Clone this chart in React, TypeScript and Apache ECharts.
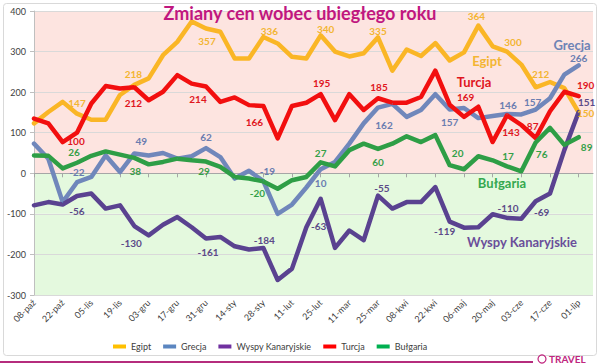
import React, { useEffect, useRef } from 'react';
import * as echarts from 'echarts';

const categories = [
  '08-paź', '15-paź', '22-paź', '29-paź', '05-lis', '12-lis', '19-lis', '26-lis',
  '03-gru', '10-gru', '17-gru', '24-gru', '31-gru', '07-sty', '14-sty', '21-sty',
  '28-sty', '04-lut', '11-lut', '18-lut', '25-lut', '04-mar', '11-mar', '18-mar',
  '25-mar', '01-kwi', '08-kwi', '15-kwi', '22-kwi', '29-kwi', '06-maj', '13-maj',
  '20-maj', '27-maj', '03-cze', '10-cze', '17-cze', '24-cze', '01-lip', '',
];

const egipt = [123, 151, 176, 147, 132, 132, 193, 218, 234, 291, 324, 374, 357, 349, 283, 283, 336, 320, 287, 283, 340, 300, 288, 296, 335, 253, 305, 289, 321, 278, 298, 364, 313, 300, 268, 212, 225, 210, 150];
const grecja = [73, 36, -71, -22, -9, 44, 3, 49, 44, 50, 36, 42, 62, 40, -13, 6, -19, -100, -77, -35, 10, 28, 73, 123, 162, 171, 139, 156, 195, 157, 161, 136, 141, 146, 145, 157, 185, 243, 266];
const wyspy = [-79, -71, -77, -56, -50, -87, -79, -130, -153, -127, -108, -133, -161, -157, -180, -188, -184, -263, -235, -133, -63, -184, -141, -165, -55, -87, -71, -71, -34, -119, -134, -133, -101, -110, -112, -69, -50, 57, 151];
const turcja = [135, 123, 77, 100, 172, 215, 209, 212, 180, 201, 242, 221, 214, 176, 187, 168, 166, 86, 166, 174, 195, 131, 195, 156, 185, 174, 174, 188, 253, 169, 139, 164, 77, 143, 119, 87, 153, 201, 190];
const bulgaria = [44, 43, 12, 26, 43, 54, 46, 38, 22, 28, 36, 32, 29, 16, -9, -13, -20, -38, -17, -9, 27, 17, 57, 73, 60, 73, 91, 77, 94, 20, 10, 42, 32, 17, 5, 76, 112, 70, 89];

const yMin = -300;
const yMax = 400;
const yStep = 100;

// label offsets (style only) for labelled points: index -> [dx, dy]
const egiptLab: Record<number, number[]> = { 3: [0, -11], 7: [-1, -11], 12: [1, 13], 16: [6, -6], 20: [5, -6], 24: [0, -6], 31: [-2, -10], 33: [6, -10], 35: [5, -13], 38: [7, 1] };
const turcjaLab: Record<number, number[]> = { 3: [-1, 8], 7: [-1, 16], 12: [-8, 13], 16: [-9, 16], 20: [1, -11], 24: [1, -11], 29: [16, -8], 33: [4, 17], 35: [-3, -12], 38: [7, -11] };
const grecjaLab: Record<number, number[]> = { 3: [0, -10], 7: [7, -12], 12: [0, -11], 16: [4, -10], 20: [0, 14], 24: [6, 17], 29: [0, 12], 33: [1, -9], 35: [-3, -8], 38: [0, -7] };
const bulgariaLab: Record<number, number[]> = { 3: [-3, -11], 7: [1, 13], 12: [-2, 9], 16: [-6, 12], 20: [0, -9], 24: [0, 13], 29: [8, -12], 33: [1, -10], 35: [6, 12], 38: [8, 10] };
const wyspyLab: Record<number, number[]> = { 3: [0, 15], 7: [-3, 17], 12: [2, 13], 16: [1, -8], 20: [-2, 27], 24: [4, -8], 29: [-5, 9], 33: [1, -10], 35: [6, 11], 38: [8, -10] };

const FONT = 'Lato, "Open Sans", sans-serif';

function withLabels(values: number[], offs: Record<number, number[]>) {
  return values.map((v, i) =>
    offs[i] ? { value: v, label: { show: true, offset: offs[i] } } : v
  );
}

function makeSeries(name: string, values: number[], offs: Record<number, number[]>, lineColor: string, labelColor: string) {
  return {
    name,
    type: 'line',
    data: withLabels(values, offs),
    xAxisIndex: 0,
    yAxisIndex: 0,
    symbol: 'circle',
    symbolSize: 1,
    showSymbol: true,
    showAllSymbol: true,
    lineStyle: { width: 4.5, color: lineColor, cap: 'round', join: 'round' },
    itemStyle: { color: lineColor },
    label: {
      show: false,
      position: 'inside',
      color: labelColor,
      fontSize: 10,
      lineHeight: 10,
      fontWeight: 'bold',
      fontFamily: FONT,
    },
    emphasis: { disabled: true },
    silent: true,
  };
}

export default function App() {
  const ref = useRef<HTMLDivElement>(null);

  useEffect(() => {
    if (!ref.current) return;
    const chart = echarts.init(ref.current, null, { renderer: 'svg' });
    const pink = '#FDE4E0';
    const green = '#E4F9DE';
    const splitColors: string[] = [];
    for (let v = yMin; v < yMax; v += yStep) splitColors.push(v < 0 ? green : pink);

    const option: any = {
      animation: false,
      backgroundColor: '#ffffff',
      textStyle: { fontFamily: FONT },
      title: {
        text: 'Zmiany cen wobec ubiegłego roku',
        left: 'center',
        top: 4,
        padding: 0,
        textStyle: { fontSize: 18, lineHeight: 18, fontWeight: 'bold', color: '#C0177F', fontFamily: FONT },
      },
      legend: {
        left: 113,
        top: 342,
        itemWidth: 13,
        itemHeight: 4,
        itemGap: 12,
        icon: 'rect',
        padding: 0,
        textStyle: { fontSize: 9, color: '#404040', fontFamily: FONT },
        data: [
          { name: 'Egipt', itemStyle: { color: '#FFC000' } },
          { name: 'Grecja', itemStyle: { color: '#5B86C0' } },
          { name: 'Wyspy Kanaryjskie', itemStyle: { color: '#7030A0' } },
          { name: 'Turcja', itemStyle: { color: '#FF0000' } },
          { name: 'Bułgaria', itemStyle: { color: '#00B050' } },
        ],
      },
      grid: { left: 34, right: 7, top: 11, bottom: 69, outerBoundsMode: 'none' },
      xAxis: [
        {
          type: 'category',
          data: categories,
          boundaryGap: false,
          position: 'bottom',
          axisLine: { show: false, onZero: false },
          axisTick: { show: false },
          axisLabel: {
            interval: 1,
            rotate: 45,
            fontSize: 9,
            color: '#404040',
            fontFamily: FONT,
            margin: 6,
          },
          splitLine: { show: false },
        },
        {
          type: 'category',
          data: categories,
          boundaryGap: false,
          position: 'bottom',
          axisLine: { show: true, onZero: true, lineStyle: { color: '#A6A6A6', width: 1 } },
          axisTick: { show: true, interval: 1, length: 4, lineStyle: { color: '#A6A6A6' } },
          axisLabel: { show: false },
          splitLine: { show: false },
        },
      ],
      yAxis: {
        type: 'value',
        min: yMin,
        max: yMax,
        interval: yStep,
        axisLine: { show: true, lineStyle: { color: '#BFBFBF' } },
        axisTick: { show: true, length: 4, lineStyle: { color: '#BFBFBF' } },
        axisLabel: { fontSize: 9, color: '#404040', fontFamily: FONT, margin: 8 },
        splitLine: { show: true, lineStyle: { color: '#D9D9D9', width: 1 } },
        splitArea: { show: true, areaStyle: { color: splitColors } },
      },
      visualMap: [
        {
          type: 'piecewise',
          show: false,
          seriesIndex: 1,
          dimension: 1,
          pieces: [
            { gte: -1000, lt: 0, color: '#4A93C0' },
            { gte: 0, lte: 1000, color: '#7087BB' },
          ],
        },
        {
          type: 'piecewise',
          show: false,
          seriesIndex: 2,
          dimension: 1,
          pieces: [
            { gte: -1000, lt: 0, color: '#5A4290' },
            { gte: 0, lte: 1000, color: '#8A2EC0' },
          ],
        },
      ],
      series: [
        makeSeries('Egipt', egipt, egiptLab, '#FAB626', '#F3B532'),
        makeSeries('Grecja', grecja, grecjaLab, '#7087BB', '#6A7DB0'),
        makeSeries('Wyspy Kanaryjskie', wyspy, wyspyLab, '#5A4290', '#5C4A88'),
        makeSeries('Turcja', turcja, turcjaLab, '#F20F0F', '#E0161E'),
        makeSeries('Bułgaria', bulgaria, bulgariaLab, '#2E9E46', '#35A048'),
      ],
      graphic: [
        {
          type: 'rect',
          shape: { x: 3.5, y: 3.5, width: 593, height: 352, r: 3 },
          style: { fill: 'none', stroke: '#D9D9D9', lineWidth: 1 },
          silent: true,
          z: -1,
        },
        {
          type: 'line',
          shape: { x1: 0, y1: 362, x2: 533, y2: 362 },
          style: { stroke: '#B52C7D', lineWidth: 2 },
          silent: true,
        },
        {
          type: 'circle',
          shape: { cx: 542, cy: 359, r: 4 },
          style: { fill: 'none', stroke: '#C0267F', lineWidth: 1.2 },
          silent: true,
        },
        {
          type: 'text',
          x: 549,
          y: 359,
          style: { text: 'TRAVEL', fill: '#C0267F', font: `bold 10px ${FONT}`, textVerticalAlign: 'middle' },
          silent: true,
        },
        {
          type: 'text', x: 487, y: 61,
          style: { text: 'Egipt', fill: '#F3B532', font: `bold 13px ${FONT}`, textAlign: 'center', textVerticalAlign: 'middle' },
          silent: true, z: 10,
        },
        {
          type: 'text', x: 572, y: 45,
          style: { text: 'Grecja', fill: '#6E83B5', font: `bold 13px ${FONT}`, textAlign: 'center', textVerticalAlign: 'middle' },
          silent: true, z: 10,
        },
        {
          type: 'text', x: 474, y: 82,
          style: { text: 'Turcja', fill: '#E0161E', font: `bold 13px ${FONT}`, textAlign: 'center', textVerticalAlign: 'middle' },
          silent: true, z: 10,
        },
        {
          type: 'text', x: 502, y: 183,
          style: { text: 'Bułgaria', fill: '#35A84E', font: `bold 13px ${FONT}`, textAlign: 'center', textVerticalAlign: 'middle' },
          silent: true, z: 10,
        },
        {
          type: 'text', x: 522, y: 242,
          style: { text: 'Wyspy Kanaryjskie', fill: '#6A4E9A', font: `bold 13px ${FONT}`, textAlign: 'center', textVerticalAlign: 'middle' },
          silent: true, z: 10,
        },
      ],
    };

    chart.setOption(option);
    return () => {
      chart.dispose();
    };
  }, []);

  return (
    <div
      ref={ref}
      style={{ position: 'fixed', left: 0, top: 0, width: 600, height: 364 }}
    />
  );
}
